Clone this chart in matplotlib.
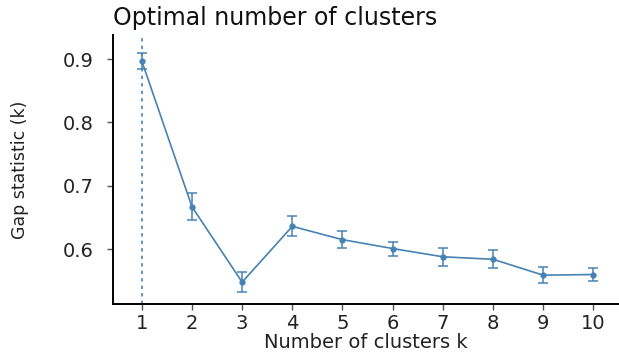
import matplotlib
matplotlib.use("Agg")
import matplotlib.pyplot as plt

# Gap statistic for k = 1..10 with standard errors
k_values = [1, 2, 3, 4, 5, 6, 7, 8, 9, 10]
gap = [0.897, 0.667, 0.548, 0.636, 0.615, 0.601, 0.588, 0.584, 0.559, 0.560]
gap_se = [0.013, 0.021, 0.016, 0.016, 0.013, 0.011, 0.014, 0.014, 0.013, 0.011]
y_ticks = [0.6, 0.7, 0.8, 0.9]
optimal_k = 1

color = "#4682B4"

fig = plt.figure(figsize=(6.19, 3.53), dpi=100)
ax = fig.add_axes([0.182, 0.139, 0.818, 0.762])

ax.axvline(optimal_k, color=color, linestyle=(0, (2, 2.5)), linewidth=1.2, zorder=1)
ax.plot(k_values, gap, color=color, linewidth=1.2, zorder=2)
ax.errorbar(k_values, gap, yerr=gap_se, fmt="o", color=color, markersize=3.5,
            elinewidth=1.1, capsize=3.6, capthick=1.1, zorder=3)

ax.set_xlim(0.42, 10.51)
ax.set_ylim(0.5136, 0.938)
ax.set_xticks(k_values)
ax.set_xticklabels([str(k) for k in k_values])
ax.set_yticks(y_ticks)
ax.set_yticklabels([f"{v:.1f}" for v in y_ticks])

for side in ("top", "right"):
    ax.spines[side].set_visible(False)
for side in ("left", "bottom"):
    ax.spines[side].set_linewidth(1.4)
    ax.spines[side].set_color("black")

ax.tick_params(axis="both", length=4, width=1, color="#555555",
               labelsize=14, labelcolor="#222222")
ax.tick_params(axis="x", pad=3)
ax.tick_params(axis="y", pad=10)

ax.set_xlabel("Number of clusters k", fontsize=14, color="#222222", labelpad=0)
ax.set_ylabel("Gap statistic (k)", fontsize=12.5,
              color="#222222", labelpad=24)

fig.text(0.182, 0.950, "Optimal number of clusters", fontsize=17,
         color="#111111", ha="left", va="center")

fig.savefig("out.png", dpi=100)
